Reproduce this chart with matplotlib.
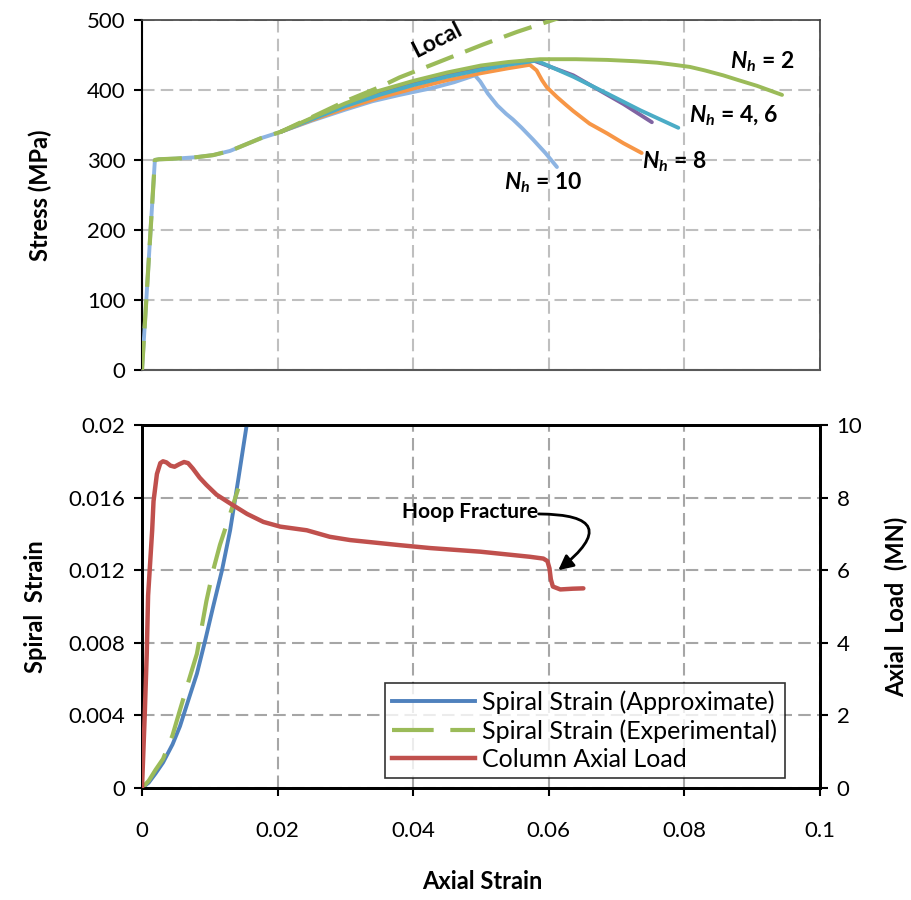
import numpy as np
import matplotlib
matplotlib.use("Agg")
from matplotlib import pyplot as plt
from matplotlib.lines import Line2D

plt.rcParams['font.family'] = ['Lato', 'DejaVu Sans']
plt.rcParams['mathtext.fontset'] = 'custom'
plt.rcParams['mathtext.it'] = 'Lato:italic:bold'
plt.rcParams['mathtext.rm'] = 'Lato:bold'

# ---- top panel: stress-strain curves for different N_h ----
base_eps = [0, 0.0019, 0.0025, 0.005, 0.008, 0.0105, 0.013, 0.015, 0.0175, 0.0204]
base_sig = [0, 300, 301, 302, 304, 307, 313, 321, 331, 340]

nh10_eps = [0.025, 0.030, 0.034, 0.038, 0.0429, 0.046, 0.0491, 0.0499, 0.051, 0.0524, 0.0537,
            0.0547, 0.056, 0.0577, 0.0595, 0.0612]
nh10_sig = [356, 372, 384, 393, 403, 411, 421, 412, 395, 378, 366, 358, 346, 329, 310, 290]

nh8_eps = [0.025, 0.030, 0.035, 0.040, 0.045, 0.050, 0.054, 0.0572, 0.0582, 0.059, 0.0597, 0.0612,
           0.0625, 0.0636, 0.066, 0.0686, 0.071, 0.0737]
nh8_sig = [357, 374, 389, 402, 414, 424, 431, 436, 428, 414, 404, 390, 379, 370, 352, 338, 324, 310]

nh6_eps = [0.025, 0.030, 0.035, 0.040, 0.045, 0.050, 0.054, 0.0582, 0.0636, 0.0686, 0.0735, 0.0791]
nh6_sig = [358, 377, 393, 407, 419, 429, 436, 442, 419, 395, 371, 346]

nh4_eps = [0.025, 0.030, 0.035, 0.040, 0.045, 0.050, 0.054, 0.0575, 0.0636, 0.071, 0.0752]
nh4_sig = [359, 379, 396, 410, 422, 432, 438, 443, 421, 380, 354]

nh2_eps = [0.025, 0.030, 0.035, 0.040, 0.045, 0.050, 0.054, 0.0587, 0.064, 0.0686, 0.073, 0.076,
           0.0785, 0.0808, 0.083, 0.0857, 0.088, 0.0907, 0.0944]
nh2_sig = [360, 381, 399, 413, 425, 435, 440, 444, 444, 443, 441, 439, 436, 433, 428, 421, 414, 406, 393]

local_eps = [0.025, 0.030, 0.035, 0.038, 0.043, 0.0503, 0.0553, 0.0606, 0.063]
local_sig = [361, 384, 404, 418, 437, 465, 483, 500, 508]

# ---- bottom panel: spiral strain and axial load ----
approx_eps = [0, 0.001, 0.002, 0.0031, 0.0045, 0.0056, 0.0068, 0.0081, 0.0093, 0.0105, 0.0118,
              0.013, 0.0142, 0.0154, 0.0158]
approx_sp = [0, 0.0003, 0.0008, 0.0014, 0.0024, 0.0034, 0.0048, 0.0063, 0.0081, 0.0100, 0.0120,
             0.0142, 0.0170, 0.0199, 0.0208]

exp_eps = [0, 0.001, 0.002, 0.0031, 0.0045, 0.0056, 0.0068, 0.0081, 0.0095, 0.0105, 0.0115, 0.013, 0.0142]
exp_sp = [0, 0.0004, 0.001, 0.0016, 0.0029, 0.0043, 0.0058, 0.0074, 0.0103, 0.0120, 0.0134, 0.0151, 0.0165]

load_eps = [0, 0.0004, 0.0007, 0.0009, 0.0012, 0.0015, 0.0017, 0.0022, 0.0027, 0.0031, 0.0036, 0.0042,
            0.0048, 0.0055, 0.0062, 0.0068, 0.0075, 0.0085, 0.0095, 0.011, 0.013, 0.0155, 0.0179,
            0.0204, 0.0243, 0.0277, 0.0307, 0.038, 0.0425, 0.0499, 0.0572, 0.0592, 0.0598, 0.0601,
            0.0603, 0.0606, 0.0617, 0.0635, 0.0651]
load_mn = [0, 2.0, 3.7, 5.3, 6.2, 7.1, 7.9, 8.65, 8.95, 9.0, 8.97, 8.88,
           8.85, 8.92, 8.98, 8.95, 8.8, 8.55, 8.35, 8.08, 7.84, 7.55, 7.33,
           7.2, 7.1, 6.92, 6.83, 6.69, 6.61, 6.51, 6.37, 6.32, 6.25, 6.05,
           5.75, 5.55, 5.47, 5.49, 5.5]

blue = '#4F81BD'
red = '#C0504D'
green = '#9BBB59'
purple = '#8064A2'
aqua = '#4BACC6'
orange = '#F79646'
lblue = '#8DB4E2'

fig = plt.figure(figsize=(9.12, 9.0), dpi=100)
ax1 = fig.add_axes([142/912, 1-370/900, 678/912, 350/900])
ax2 = fig.add_axes([142/912, 1-788/900, 678/912, 363/900])

lw = 2.8
ax1.plot(base_eps + nh10_eps, base_sig + nh10_sig, color=lblue, lw=lw, solid_capstyle='round', zorder=3)
ax1.plot(base_eps[-1:] + nh8_eps, base_sig[-1:] + nh8_sig, color=orange, lw=lw, solid_capstyle='round', zorder=3)
ax1.plot(base_eps[-1:] + nh6_eps, base_sig[-1:] + nh6_sig, color=aqua, lw=lw, solid_capstyle='round', zorder=3)
ax1.plot(base_eps[-1:] + nh4_eps, base_sig[-1:] + nh4_sig, color=purple, lw=lw, solid_capstyle='round', zorder=2.9)
ax1.plot(base_eps[-1:] + nh2_eps, base_sig[-1:] + nh2_sig, color=green, lw=lw, solid_capstyle='round', zorder=3)
ax1.plot(base_eps + local_eps, base_sig + local_sig, color=green, lw=3, ls=(0, (7, 3)), zorder=4)

ax1.set_xlim(0, 0.1)
ax1.set_ylim(0, 500)
ax1.set_yticks(np.arange(0, 501, 100))
ax1.set_xticks(np.arange(0, 0.101, 0.02))
ax1.set_xticklabels([])
ax1.tick_params(axis='x', length=0)
ax1.tick_params(axis='y', direction='out', length=6, width=1.5, labelsize=16, colors='black', pad=6)
ax1.grid(True, color='#BFBFBF', ls=(0, (6, 3)), lw=1.5)
ax1.set_axisbelow(True)
ax1.spines['left'].set_linewidth(1.5)
ax1.spines['left'].set_color('black')
ax1.spines['bottom'].set_linewidth(1.5)
ax1.spines['bottom'].set_color('#595959')
for s in ['top', 'right']:
    ax1.spines[s].set_linewidth(1.2)
    ax1.spines[s].set_color('#404040')
ax1.set_ylabel('Stress (MPa)', fontsize=17, fontweight='bold')
ax1.yaxis.set_label_coords(-0.133, 0.5)

tk = dict(fontsize=16.5, fontweight='bold', ha='center', va='center')
ax1.text(0.0914, 440, r'$N_h$ = 2', **tk)
ax1.text(0.0872, 363, r'$N_h$ = 4, 6', **tk)
ax1.text(0.0785, 298, r'$N_h$ = 8', **tk)
ax1.text(0.0592, 268, r'$N_h$ = 10', **tk)
ax1.text(0.0435, 471, 'Local', fontsize=16.5, fontweight='bold', ha='center', va='center', rotation=27)

# bottom panel
ax3 = ax2.twinx()
ax2.plot(approx_eps, approx_sp, color=blue, lw=2.8, zorder=3)
ax2.plot(exp_eps, exp_sp, color=green, lw=3, ls=(0, (10, 4)), zorder=4)
ax3.plot(load_eps, load_mn, color=red, lw=3.2, solid_capstyle='round', zorder=3)

ax2.set_xlim(0, 0.1)
ax2.set_ylim(0, 0.02)
ax3.set_ylim(0, 10)
ax2.set_xticks(np.arange(0, 0.101, 0.02))
ax2.set_xticklabels(['0', '0.02', '0.04', '0.06', '0.08', '0.1'])
ax2.set_yticks(np.arange(0, 0.0201, 0.004))
ax2.set_yticklabels(['0', '0.004', '0.008', '0.012', '0.016', '0.02'])
ax3.set_yticks(np.arange(0, 10.1, 2))
ax2.tick_params(direction='out', length=6, width=1.5, labelsize=16, pad=6)
ax2.tick_params(axis='x', pad=18)
ax3.tick_params(direction='out', length=6, width=1.5, labelsize=16, pad=6)
ax2.grid(True, color='#A6A6A6', ls=(0, (6, 3)), lw=1.5)
ax2.set_axisbelow(True)
for a in (ax2, ax3):
    for s in a.spines.values():
        s.set_linewidth(2)
        s.set_color('black')

ax2.set_ylabel('Spiral  Strain', fontsize=17, fontweight='bold')
ax2.yaxis.set_label_coords(-0.140, 0.5)
ax3.set_ylabel('Axial  Load  (MN)', fontsize=17, fontweight='bold', rotation=90)
ax3.yaxis.set_label_coords(1.096, 0.5)
ax2.set_xlabel('Axial Strain', fontsize=17, fontweight='bold')
ax2.xaxis.set_label_coords(0.5015, -0.226)

ax3.text(0.0484, 7.6, 'Hoop Fracture', fontsize=15, fontweight='bold', ha='center', va='center')
ax3.annotate('', xy=(0.0614, 6.0), xytext=(0.0585, 7.55),
             arrowprops=dict(arrowstyle='-|>', color='black', lw=2, mutation_scale=22,
                             shrinkA=0, shrinkB=0,
                             connectionstyle='arc3,rad=-1.4'))

handles = [Line2D([], [], color=blue, lw=2.8),
           Line2D([], [], color=green, lw=3, ls=(0, (10, 4))),
           Line2D([], [], color=red, lw=3.2)]
labels = ['Spiral Strain (Approximate)', 'Spiral Strain (Experimental)', 'Column Axial Load']
leg = ax3.legend(handles, labels, loc='lower right', bbox_to_anchor=(0.948, 0.027),
                 fontsize=18, frameon=True, fancybox=False, handlelength=3.3,
                 borderpad=0.3, labelspacing=0.2, handletextpad=0.3, borderaxespad=0)
leg.get_frame().set_edgecolor('black')
leg.get_frame().set_linewidth(1.2)

plt.savefig('out.png', dpi=100)
